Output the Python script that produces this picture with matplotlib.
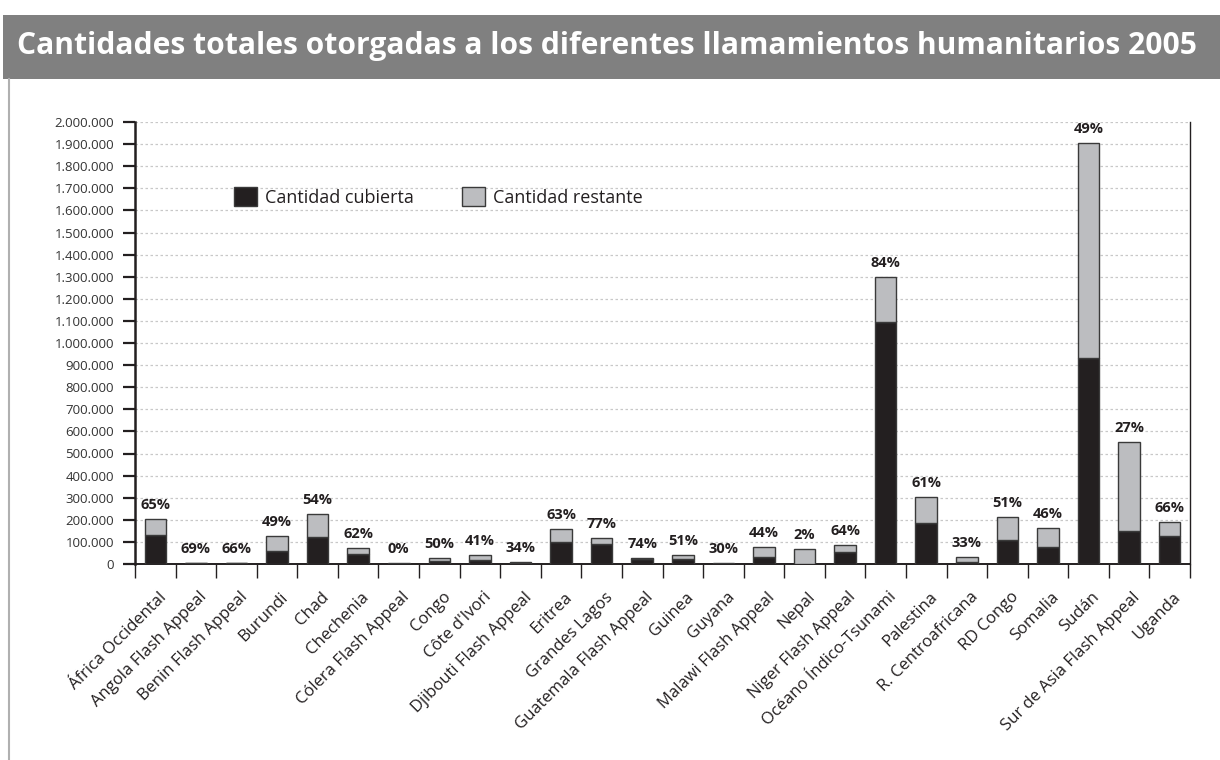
import matplotlib
matplotlib.use("Agg")
import matplotlib.pyplot as plt
from matplotlib.ticker import FuncFormatter, MultipleLocator, FixedLocator
from matplotlib.patches import Rectangle
from matplotlib.lines import Line2D
from matplotlib.transforms import ScaledTranslation
import numpy as np

categories = ["África Occidental", "Angola Flash Appeal", "Benin Flash Appeal", "Burundi",
              "Chad", "Chechenia", "Cólera Flash Appeal", "Congo", "Côte d'Ivori",
              "Djibouti Flash Appeal", "Eritrea", "Grandes Lagos", "Guatemala Flash Appeal",
              "Guinea", "Guyana", "Malawi Flash Appeal", "Nepal", "Niger Flash Appeal",
              "Océano Índico-Tsunami", "Palestina", "R. Centroafricana", "RD Congo",
              "Somalia", "Sudán", "Sur de Asia Flash Appeal", "Uganda"]

covered = [133000, 4500, 4200, 61000, 122000, 44000, 0, 13500, 16000, 3400,
           100000, 90000, 21000, 21000, 1200, 33000, 1300, 55000, 1095000, 184000,
           10000, 109000, 75000, 933000, 149000, 125000]

totals = [205000, 6500, 6400, 125000, 226000, 71000, 3000, 27000, 40000, 10000,
          159000, 117000, 28000, 42000, 4000, 76000, 66000, 86000, 1300000, 302000,
          30000, 214000, 164000, 1905000, 551000, 190000]

pct_labels = ["65%", "69%", "66%", "49%", "54%", "62%", "0%", "50%", "41%", "34%",
              "63%", "77%", "74%", "51%", "30%", "44%", "2%", "64%", "84%", "61%",
              "33%", "51%", "46%", "49%", "27%", "66%"]

remaining = [t - c for t, c in zip(totals, covered)]

DARK = "#231f20"
GRAY = "#bcbdc0"
EDGE = "#3a3a3a"

plt.rcParams['font.family'] = ['Open Sans', 'DejaVu Sans']

fig = plt.figure(figsize=(12.2, 7.6), dpi=100)

# Title banner
fig.patches.append(Rectangle((3/1220, 1-79/760), 1-3/1220, 64/760, transform=fig.transFigure,
                             facecolor="#808080", edgecolor="none", zorder=0))
fig.text(17/1220, 1-46/760, "Cantidades totales otorgadas a los diferentes llamamientos humanitarios 2005",
         color="white", fontsize=21.6, fontweight="bold", ha="left", va="center")
# Left frame line
fig.lines.append(Line2D([8.5/1220, 8.5/1220], [0, 1-79/760], transform=fig.transFigure,
                        color="#b0b0b0", lw=1.5))

ax = fig.add_axes([135/1220, 1-564/760, (1190-135)/1220, (564-122)/760])
x = np.arange(len(categories))
w = 0.53
ax.bar(x, covered, width=w, color=DARK, edgecolor=EDGE, linewidth=1.0, zorder=3,
       label="Cantidad cubierta")
ax.bar(x, remaining, width=w, bottom=covered, color=GRAY, edgecolor=EDGE, linewidth=1.0,
       zorder=3, label="Cantidad restante")

for xi, t, lab in zip(x, totals, pct_labels):
    ax.annotate(lab, (xi, t), xytext=(0, 5), textcoords="offset points",
                ha="center", va="bottom", fontsize=10.5, fontweight="bold", color=DARK)

ax.set_xlim(-0.5, len(categories) - 0.5)
ax.set_ylim(0, 2000000)
ax.yaxis.set_major_locator(MultipleLocator(100000))
ax.yaxis.set_major_formatter(FuncFormatter(lambda v, p: f"{int(v):,}".replace(",", ".")))
ax.grid(axis="y", color="#c8c8c8", linestyle=(0, (2, 2)), linewidth=0.9, zorder=0)
ax.set_axisbelow(True)

ax.xaxis.set_major_locator(FixedLocator(np.arange(-0.5, len(categories), 1.0)))
ax.xaxis.set_major_formatter(FuncFormatter(lambda v, p: ""))
ax.set_xticks(x, minor=True)
ax.set_xticklabels(categories, minor=True, rotation=45, ha="right", va="top",
                   rotation_mode="anchor", fontsize=12, color=DARK)
ax.tick_params(axis="x", which="minor", length=0, pad=18)
ax.tick_params(axis="x", which="major", length=10, width=1.0, color=DARK, direction="out")
ax.tick_params(axis="y", length=9, width=1.6, color=DARK, labelsize=9.5, labelcolor="#333333", pad=6)
shift = ScaledTranslation(3/100, 0, fig.dpi_scale_trans)
for lab in ax.get_xticklabels(minor=True):
    lab.set_transform(lab.get_transform() + shift)

for s in ["left", "bottom", "right"]:
    ax.spines[s].set_color(DARK)
ax.spines["left"].set_linewidth(1.8)
ax.spines["bottom"].set_linewidth(1.4)
ax.spines["right"].set_linewidth(1.0)
ax.spines["top"].set_visible(False)

leg = ax.legend(loc="center left", bbox_to_anchor=(92/1055, (564-197)/442), ncol=2, frameon=False,
                fontsize=13, handlelength=1.27, handleheight=1.22, columnspacing=2.65,
                handletextpad=0.45, borderaxespad=0)
for t in leg.get_texts():
    t.set_color(DARK)

fig.savefig("out.png", dpi=100)
